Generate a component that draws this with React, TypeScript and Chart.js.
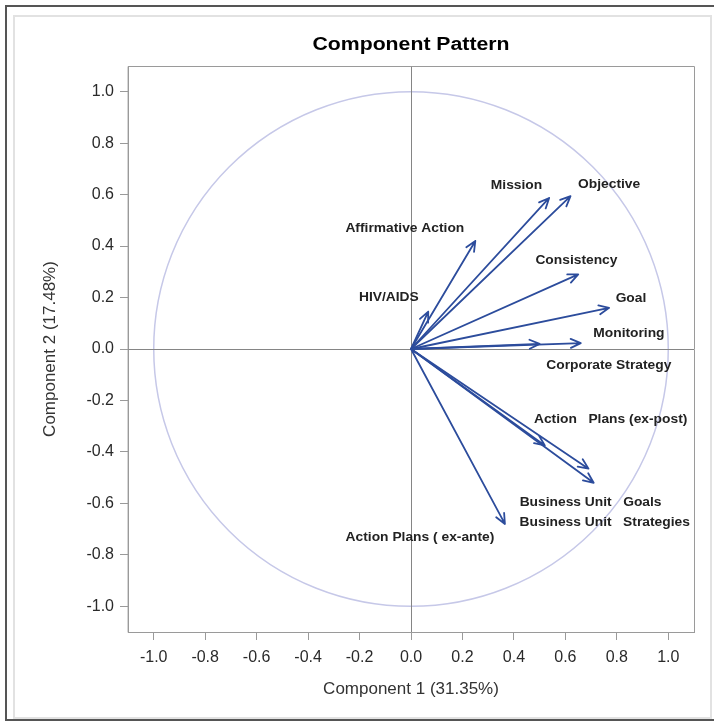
import { useEffect, useRef } from "react";
import { Chart, registerables } from "chart.js";

Chart.register(...registerables);

// Loadings of each variable on the first two principal components
const variables = [
  "HIV/AIDS",
  "Affirmative Action",
  "Mission",
  "Objective",
  "Consistency",
  "Goal",
  "Monitoring",
  "Corporate Strategy",
  "Action Plans (ex-post)",
  "Business Unit Goals",
  "Business Unit Strategies",
  "Action Plans (ex-ante)",
];
const component1 = [0.067, 0.25, 0.537, 0.62, 0.65, 0.77, 0.66, 0.5, 0.52, 0.69, 0.71, 0.365];
const component2 = [0.145, 0.42, 0.587, 0.594, 0.29, 0.16, 0.023, 0.02, -0.375, -0.465, -0.52, -0.68];

// Annotation text and its anchor (data units)
const labelText = [
  "HIV/AIDS",
  "Affirmative Action",
  "Mission",
  "Objective",
  "Consistency",
  "Goal",
  "Monitoring",
  "Corporate Strategy",
  "Action   Plans (ex-post)",
  "Business Unit   Goals",
  "Business Unit   Strategies",
  "Action Plans ( ex-ante)",
];
const labelX = [-0.086, -0.024, 0.41, 0.77, 0.643, 0.855, 0.847, 0.769, 0.776, 0.698, 0.753, 0.035];
const labelY = [0.2, 0.469, 0.633, 0.637, 0.344, 0.195, 0.059, -0.066, -0.273, -0.598, -0.676, -0.734];

const axisTicks = [-1.0, -0.8, -0.6, -0.4, -0.2, 0.0, 0.2, 0.4, 0.6, 0.8, 1.0];
const axisMin = -1.1;
const axisMax = 1.1;

const ARROW = "#2c4c9c";
const FONT = "'Liberation Sans', Arial, sans-serif";

const patternPlugin = {
  id: "patternPlugin",
  beforeDatasetsDraw(chart: any) {
    const { ctx, chartArea, scales } = chart;
    const xs = scales.x;
    const ys = scales.y;
    const x0 = xs.getPixelForValue(0);
    const y0 = ys.getPixelForValue(0);
    ctx.save();
    ctx.beginPath();
    ctx.rect(chartArea.left, chartArea.top, chartArea.right - chartArea.left, chartArea.bottom - chartArea.top);
    ctx.clip();
    // unit circle
    const rx = xs.getPixelForValue(1) - x0;
    const ry = y0 - ys.getPixelForValue(1);
    ctx.strokeStyle = "#c6c8e8";
    ctx.lineWidth = 1.5;
    ctx.beginPath();
    ctx.ellipse(x0, y0, rx, ry, 0, 0, Math.PI * 2);
    ctx.stroke();
    // reference lines through the origin
    ctx.strokeStyle = "#858585";
    ctx.lineWidth = 1;
    ctx.beginPath();
    ctx.moveTo(Math.round(x0) + 0.5, chartArea.top);
    ctx.lineTo(Math.round(x0) + 0.5, chartArea.bottom);
    ctx.moveTo(chartArea.left, Math.round(y0) + 0.5);
    ctx.lineTo(chartArea.right, Math.round(y0) + 0.5);
    ctx.stroke();
    ctx.restore();
  },
  afterDatasetsDraw(chart: any) {
    const { ctx, chartArea, scales } = chart;
    const xs = scales.x;
    const ys = scales.y;
    const x0 = xs.getPixelForValue(0);
    const y0 = ys.getPixelForValue(0);
    ctx.save();
    // arrows
    ctx.strokeStyle = ARROW;
    ctx.lineWidth = 1.8;
    ctx.lineCap = "round";
    ctx.lineJoin = "round";
    const pts = chart.data.datasets[0].data;
    pts.forEach((p: any) => {
      const tx = xs.getPixelForValue(p.x);
      const ty = ys.getPixelForValue(p.y);
      const ang = Math.atan2(ty - y0, tx - x0);
      const head = 11;
      const spread = 0.42;
      ctx.beginPath();
      ctx.moveTo(x0, y0);
      ctx.lineTo(tx, ty);
      ctx.moveTo(tx - head * Math.cos(ang - spread), ty - head * Math.sin(ang - spread));
      ctx.lineTo(tx, ty);
      ctx.lineTo(tx - head * Math.cos(ang + spread), ty - head * Math.sin(ang + spread));
      ctx.stroke();
    });
    // variable labels
    ctx.fillStyle = "#222";
    ctx.font = `bold 12px ${FONT}`;
    ctx.textAlign = "center";
    ctx.textBaseline = "middle";
    labelText.forEach((t, i) => {
      const px = xs.getPixelForValue(labelX[i]);
      const py = ys.getPixelForValue(labelY[i]);
      ctx.save();
      ctx.translate(px, py);
      ctx.scale(1.15, 1);
      ctx.fillText(t, 0, 0);
      ctx.restore();
    });
    // frame around the plot area
    ctx.strokeStyle = "#9a9a9a";
    ctx.lineWidth = 1;
    ctx.strokeRect(
      Math.round(chartArea.left) + 0.5,
      Math.round(chartArea.top) + 0.5,
      Math.round(chartArea.right - chartArea.left),
      Math.round(chartArea.bottom - chartArea.top)
    );
    // title
    ctx.fillStyle = "#000";
    ctx.font = `bold 18px ${FONT}`;
    ctx.textBaseline = "middle";
    ctx.save();
    ctx.translate((chartArea.left + chartArea.right) / 2, 45);
    ctx.scale(1.18, 1);
    ctx.fillText("Component Pattern", 0, 0);
    ctx.restore();
    ctx.restore();
  },
};

export default function App() {
  const canvasRef = useRef<HTMLCanvasElement>(null);

  useEffect(() => {
    const canvas = canvasRef.current;
    if (!canvas) return;
    const fixTicks = (scale: any) => {
      scale.ticks = axisTicks.map((v) => ({ value: v }));
    };
    const tickFmt = (v: any) => Number(v).toFixed(1);
    const chart = new Chart(canvas, {
      type: "scatter",
      data: {
        datasets: [
          {
            label: "Loadings",
            data: variables.map((_, i) => ({ x: component1[i], y: component2[i] })),
            pointRadius: 0,
            pointHoverRadius: 0,
            showLine: false,
          },
        ],
      },
      options: {
        animation: false,
        responsive: false,
        maintainAspectRatio: false,
        layout: { padding: { top: 66, right: 20, left: 20, bottom: 20 } },
        plugins: {
          legend: { display: false },
          tooltip: { enabled: false },
          title: { display: false },
        },
        scales: {
          x: {
            type: "linear",
            min: axisMin,
            max: axisMax,
            afterBuildTicks: fixTicks,
            afterFit: (s: any) => {
              s.height = 72;
            },
            grid: { drawOnChartArea: false, drawTicks: true, tickLength: 8, color: "#9a9a9a" },
            border: { display: true, color: "#9a9a9a" },
            ticks: {
              callback: tickFmt,
              padding: 8,
              color: "#2a2a2a",
              font: { family: FONT, size: 16 },
              maxRotation: 0,
            },
            title: {
              display: true,
              text: "Component 1 (31.35%)",
              color: "#333",
              font: { family: FONT, size: 17 },
              padding: { top: 0, bottom: 4 },
            },
          },
          y: {
            type: "linear",
            min: axisMin,
            max: axisMax,
            afterBuildTicks: fixTicks,
            afterFit: (s: any) => {
              s.width = 108;
            },
            grid: { drawOnChartArea: false, drawTicks: true, tickLength: 8, color: "#9a9a9a" },
            border: { display: true, color: "#9a9a9a" },
            ticks: {
              callback: tickFmt,
              padding: 6,
              color: "#2a2a2a",
              font: { family: FONT, size: 16 },
            },
            title: {
              display: true,
              text: "Component 2 (17.48%)",
              color: "#333",
              font: { family: FONT, size: 17 },
              padding: { top: 20, bottom: 0 },
            },
          },
        },
      },
      plugins: [patternPlugin],
    });
    return () => chart.destroy();
  }, []);

  return (
    <div style={{ position: "fixed", left: 0, top: 0, width: 714, height: 724, background: "#fff", overflow: "hidden" }}>
      <div
        style={{
          position: "absolute",
          left: 5,
          top: 5,
          width: 720,
          height: 716,
          borderLeft: "2px solid #555",
          borderTop: "2px solid #555",
          borderBottom: "2px solid #555",
          boxSizing: "border-box",
        }}
      />
      <div
        style={{
          position: "absolute",
          left: 13,
          top: 15,
          width: 699,
          height: 704,
          border: "2px solid #e2e2e2",
          boxSizing: "border-box",
        }}
      />
      <canvas ref={canvasRef} width={714} height={724} style={{ position: "absolute", left: 0, top: 0, display: "block" }} />
    </div>
  );
}
